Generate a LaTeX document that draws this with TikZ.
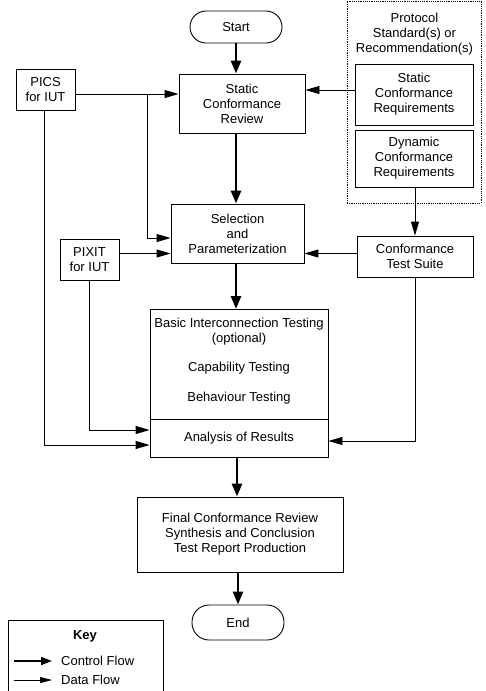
\documentclass[tikz,border=0pt]{standalone}
\usepackage{fontspec}
\setmainfont{Liberation Sans}
\usetikzlibrary{arrows.meta}
\begin{document}
\begin{tikzpicture}[x=1pt,y=-1pt,
  every node/.style={font=\fontsize{13}{15}\selectfont, inner sep=0pt, align=center},
  box/.style={draw, line width=0.9pt, rectangle},
  pill/.style={draw, line width=0.9pt, rectangle, rounded corners=16pt},
  ctrl/.style={line width=2.6pt, -{Triangle[length=13pt,width=10pt]}},
  data/.style={line width=0.9pt, -{Triangle[length=14pt,width=8pt]}}]
\useasboundingbox (0,0) rectangle (486,691);
% nodes
\node[pill, minimum width=92pt, minimum height=32pt] (Start) at (236,27) {Start};
\node[box, minimum width=126pt, minimum height=59pt] (SCR) at (242,103.5) {Static\\Conformance\\Review};
\node[box, minimum width=133pt, minimum height=59pt] (Sel) at (237.5,233.5) {Selection\\and\\Parameterization};
\node[box, minimum width=178pt, minimum height=110pt, anchor=north] (Tests) at (239,309) {};
\node[box, minimum width=178pt, minimum height=38pt, anchor=north] (Anal) at (239,419) {Analysis of Results};
\node (T1) at (239,331.5) {Basic Interconnection Testing\\(optional)};
\node (T2) at (239,368) {Capability Testing};
\node (T3) at (239,398) {Behaviour Testing};
\node[box, minimum width=206pt, minimum height=75pt] (Final) at (240,534.5) {Final Conformance Review\\Synthesis and Conclusion\\Test Report Production};
\node[pill, minimum width=92pt, minimum height=35pt, rounded corners=17pt] (End) at (238,622.5) {End};
\node[box, minimum width=59pt, minimum height=41pt] (PICS) at (45.5,89.5) {PICS\\for IUT};
\node[box, minimum width=59pt, minimum height=41pt] (PIXIT) at (89.5,259.5) {PIXIT\\for IUT};
\node[draw, dash pattern=on 1.2pt off 1pt, line width=0.8pt, minimum width=134pt, minimum height=202pt] (Proto) at (414,102) {};
\node (ProtoT) at (414.5,34) {Protocol\\Standard(s) or\\Recommendation(s)};
\node[box, minimum width=118pt, minimum height=61pt] (SCReq) at (414,94.5) {Static\\Conformance\\Requirements};
\node[box, minimum width=118pt, minimum height=57pt] (DCReq) at (414,158.5) {Dynamic\\Conformance\\Requirements};
\node[box, minimum width=116pt, minimum height=41pt] (Suite) at (415,256.5) {Conformance\\Test Suite};
% helper coordinates
\coordinate (p1) at (147.5,94);
\coordinate (p2) at (147.5,238);
\coordinate (p3) at (44,445);
\coordinate (p4) at (89,430);
\coordinate (p5) at (415.5,441);
\coordinate (p6) at (0,90);
\coordinate (p7) at (0,253.5);
% control flow
\draw[ctrl] (Start.south) -- (Start.south |- SCR.north);
\draw[ctrl] (Start.south |- SCR.south) -- (Start.south |- Sel.north);
\draw[ctrl] (Start.south |- Sel.south) -- (Start.south |- Tests.north);
\draw[ctrl] (237,457) -- (Final.north -| 237,0);
\draw[ctrl] (Final.south -| End.north) -- (End.north);
% data flow
\draw[data] (PICS.east |- p1) -- (SCR.west |- p1);
\draw[data] (p1) -- (p2) -- (Sel.west |- p2);
\draw[data] (PICS.south -| p3) -- (p3) -- (Anal.west |- p3);
\draw[data] (SCReq.west |- p6) -- (SCR.east |- p6);
\draw[data] (DCReq.south -| Suite.north) -- (Suite.north);
\draw[data] (Suite.west |- p7) -- (Sel.east |- p7);
\draw[data] (PIXIT.east |- p7) -- (Sel.west |- p7);
\draw[data] (PIXIT.south -| p4) -- (p4) -- (Anal.west |- p4);
\draw[data] (Suite.south -| p5) -- (p5) -- (Anal.east |- p5);
% key
\coordinate (k1) at (8,695);
\coordinate (k2) at (163,695);
\draw[line width=0.9pt] (k1) -- (8,620) -- (163,620) -- (k2);
\node[font=\fontsize{13}{15}\selectfont\bfseries] (Key) at (85,636) {Key};
\coordinate (c1) at (14,661);
\coordinate (c2) at (52,661);
\coordinate (d1) at (14,680);
\coordinate (d2) at (52,680);
\draw[line width=1.6pt, -{Triangle[length=11pt,width=8pt]}] (c1) -- (c2);
\draw[line width=0.8pt, -{Triangle[length=12pt,width=6pt]}] (d1) -- (d2);
\node[anchor=west] (KC) at (61,661) {Control Flow};
\node[anchor=west] (KD) at (61,680) {Data Flow};
\end{tikzpicture}
\end{document}
